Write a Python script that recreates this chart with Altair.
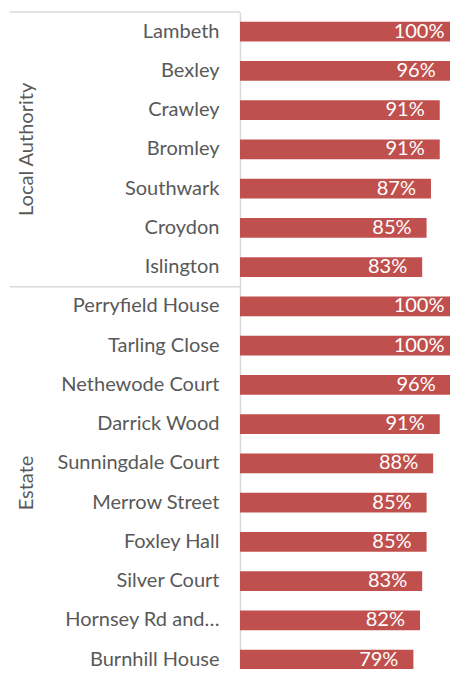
import altair as alt
import pandas as pd

la_names = ["Lambeth", "Bexley", "Crawley", "Bromley", "Southwark", "Croydon", "Islington"]
la_values = [100, 96, 91, 91, 87, 85, 83]
estate_names = ["Perryfield House", "Tarling Close", "Nethewode Court", "Darrick Wood",
                "Sunningdale Court", "Merrow Street", "Foxley Hall", "Silver Court",
                "Hornsey Rd and\u2026", "Burnhill House"]
estate_values = [100, 100, 96, 91, 88, 85, 85, 83, 82, 79]
groups = ["Local Authority", "Estate"]

names = la_names + estate_names
df = pd.DataFrame({
    "name": names,
    "value": la_values + estate_values,
    "group": [groups[0]] * len(la_names) + [groups[1]] * len(estate_names),
})

FONT = "Lato"
FS = 20
GRAY = "#595959"
LINE = "#d9d9d9"
RED = "#c0504d"

ysc = alt.Scale(domain=names, paddingInner=0, paddingOuter=0, range=[0, 667.25])
xsc = alt.Scale(domain=[0, 100], range=[0, 219.5])

base = alt.Chart(df)

bars = base.mark_bar(color=RED, height={"band": 0.5}).encode(
    y=alt.Y("name:N", sort=names, scale=ysc, title=None,
            axis=alt.Axis(ticks=False, labelPadding=21, labelFont=FONT, labelFontSize=FS,
                          labelColor=GRAY, domainColor=LINE, domainWidth=1.5,
                          labelLimit=250, grid=False)),
    x=alt.X("value:Q", scale=xsc, axis=None),
)

labels = base.transform_calculate(lab="datum.value + '%'").mark_text(
    align="right", baseline="middle", dx=-15, color="white", font=FONT, fontSize=FS
).encode(
    y=alt.Y("name:N", sort=names, scale=ysc),
    x=alt.X("value:Q", scale=xsc),
    text="lab:N",
)

sep_df = pd.DataFrame({"name": [la_names[0], estate_names[0]]})
seps = alt.Chart(sep_df).mark_rule(color=LINE, strokeWidth=1.5).encode(
    y=alt.Y("name:N", sort=names, scale=ysc, bandPosition=0),
    x=alt.value(-230), x2=alt.value(0),
)

g1 = alt.Chart(pd.DataFrame({"name": [la_names[3]], "g": [groups[0]]})).mark_text(
    angle=270, align="center", baseline="middle", font=FONT, fontSize=FS, color=GRAY
).encode(
    y=alt.Y("name:N", sort=names, scale=ysc, bandPosition=0.5),
    x=alt.value(-213),
    text="g:N",
)
g2 = alt.Chart(pd.DataFrame({"name": [estate_names[5]], "g": [groups[1]]})).mark_text(
    angle=270, align="center", baseline="middle", font=FONT, fontSize=FS, color=GRAY
).encode(
    y=alt.Y("name:N", sort=names, scale=ysc, bandPosition=0),
    x=alt.value(-213),
    text="g:N",
)

chart = alt.layer(bars, labels, seps, g1, g2).properties(
    width=210, height=657,
    padding={"left": 232, "top": 4, "right": 0, "bottom": 0},
    autosize=alt.AutoSizeParams(type="none"),
    background="white",
).configure_view(stroke=None)

chart.save("out.html", embed_options={"renderer": "svg", "actions": False})
